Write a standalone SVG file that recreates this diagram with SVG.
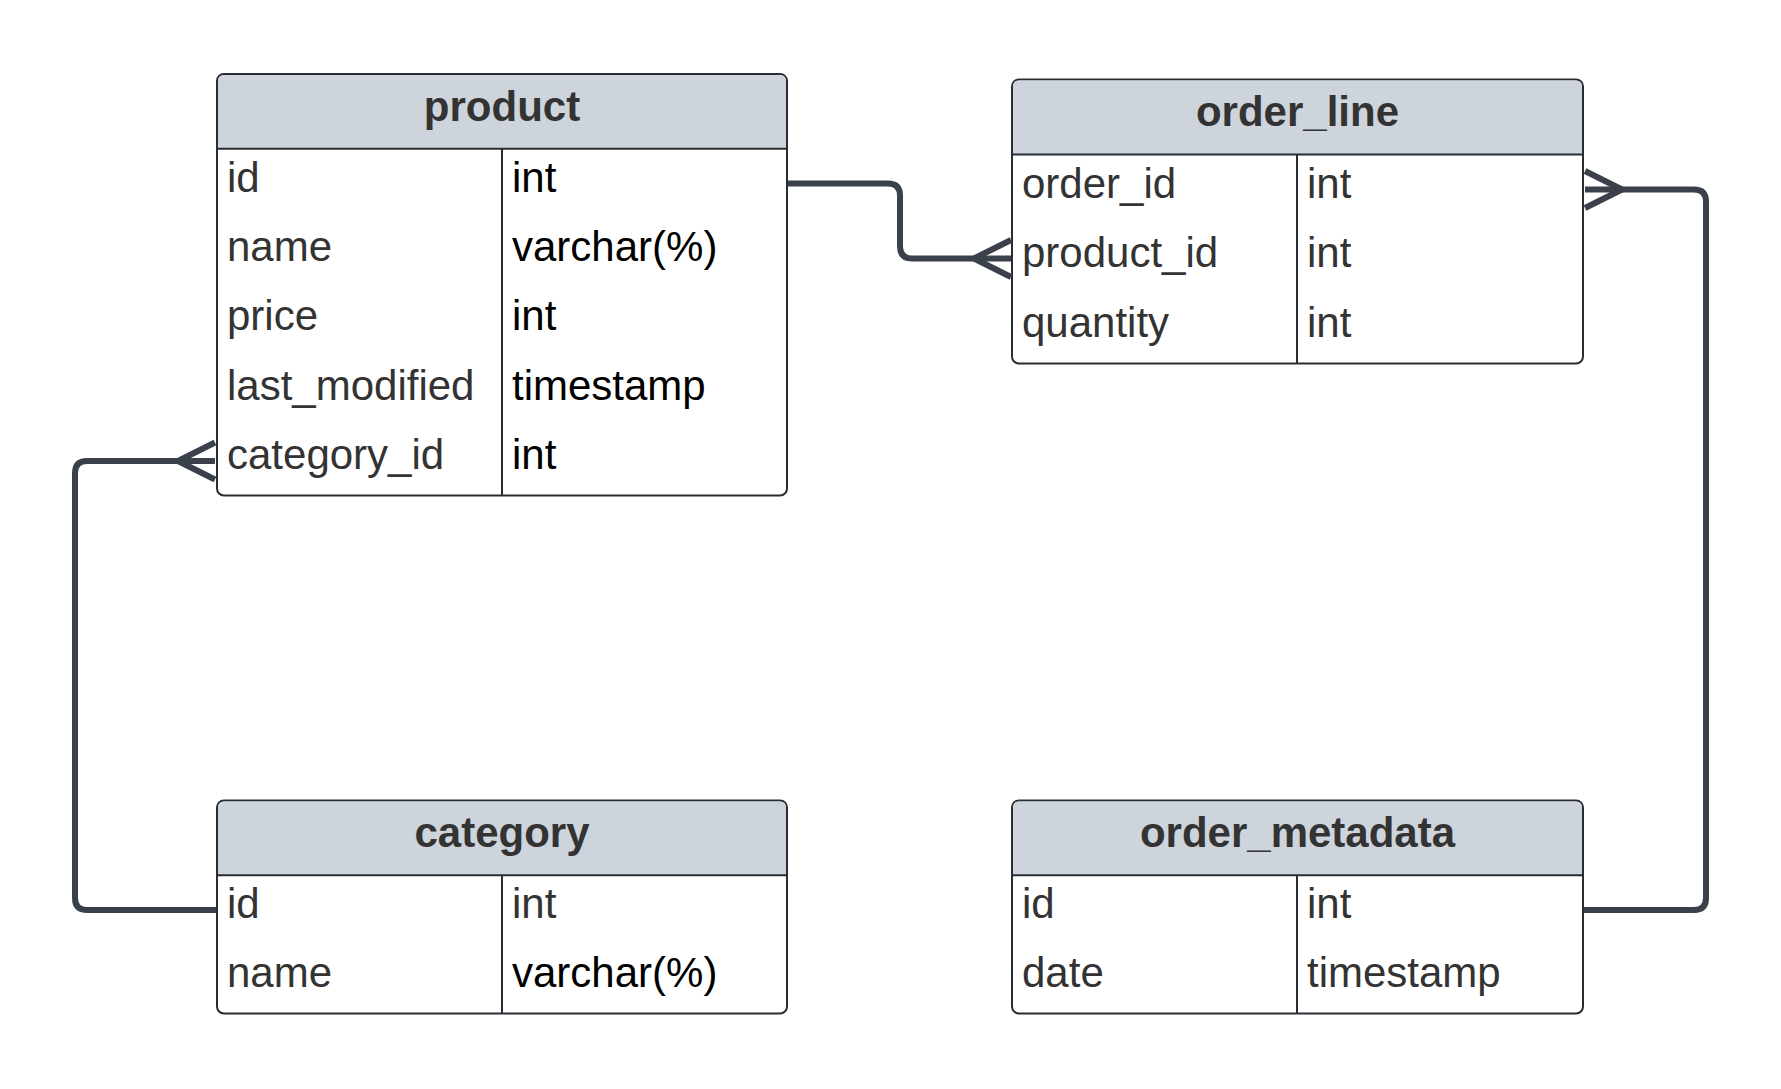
<svg xmlns="http://www.w3.org/2000/svg" width="1781" height="1089" viewBox="0 0 1781 1089">
<style>
.box{fill:#ffffff;stroke:#282c33;stroke-width:2}
.hdr{fill:#ced4db;stroke:none}
.ln{stroke:#282c33;stroke-width:2;fill:none}
.title{font-family:"Liberation Sans",Arial,sans-serif;font-size:42px;font-weight:bold;fill:#333333;text-anchor:middle}
.f{font-family:"Liberation Sans",Arial,sans-serif;font-size:42px;fill:#333333}
.k{fill:#000000}
.conn{fill:none;stroke:#3a414a;stroke-width:6;stroke-linejoin:round}
</style>
<rect width="1781" height="1089" fill="#ffffff"/>

<g id="product">
<rect class="box" x="217" y="74" width="570" height="421.5" rx="7"/>
<path class="hdr" d="M218,148.7 V81 Q218,75 224,75 H780 Q786,75 786,81 V148.7 Z"/>
<line class="ln" x1="217" y1="148.7" x2="787" y2="148.7"/>
<line class="ln" x1="502" y1="148.7" x2="502" y2="495.5"/>
<text class="title" x="502" y="120.7">product</text>
<text class="f" x="227" y="191.7">id</text>
<text class="f" x="227" y="261">name</text>
<text class="f" x="227" y="330.4">price</text>
<text class="f" x="227" y="399.8">last_modified</text>
<text class="f" x="227" y="469.1">category_id</text>
<text class="f k" x="512" y="191.7">int</text>
<text class="f k" x="512" y="261">varchar(%)</text>
<text class="f k" x="512" y="330.4">int</text>
<text class="f k" x="512" y="399.8">timestamp</text>
<text class="f k" x="512" y="469.1">int</text>
</g>

<g id="order_line">
<rect class="box" x="1012" y="79.5" width="571" height="284" rx="7"/>
<path class="hdr" d="M1013,154.5 V86.5 Q1013,80.5 1019,80.5 H1576 Q1582,80.5 1582,86.5 V154.5 Z"/>
<line class="ln" x1="1012" y1="154.5" x2="1583" y2="154.5"/>
<line class="ln" x1="1297" y1="154.5" x2="1297" y2="363.5"/>
<text class="title" x="1297.5" y="126.2">order_line</text>
<text class="f" x="1022" y="197.5">order_id</text>
<text class="f" x="1022" y="267.1">product_id</text>
<text class="f" x="1022" y="336.7">quantity</text>
<text class="f" x="1307" y="197.5">int</text>
<text class="f" x="1307" y="267.1">int</text>
<text class="f" x="1307" y="336.7">int</text>
</g>

<g id="category">
<rect class="box" x="217" y="800.5" width="570" height="213" rx="7"/>
<path class="hdr" d="M218,875.3 V807.5 Q218,801.5 224,801.5 H780 Q786,801.5 786,807.5 V875.3 Z"/>
<line class="ln" x1="217" y1="875.3" x2="787" y2="875.3"/>
<line class="ln" x1="502" y1="875.3" x2="502" y2="1013.5"/>
<text class="title" x="502" y="847.2">category</text>
<text class="f" x="227" y="918.3">id</text>
<text class="f" x="227" y="987.3">name</text>
<text class="f" x="512" y="918.3">int</text>
<text class="f k" x="512" y="987.3">varchar(%)</text>
</g>

<g id="order_metadata">
<rect class="box" x="1012" y="800.5" width="571" height="213" rx="7"/>
<path class="hdr" d="M1013,875.3 V807.5 Q1013,801.5 1019,801.5 H1576 Q1582,801.5 1582,807.5 V875.3 Z"/>
<line class="ln" x1="1012" y1="875.3" x2="1583" y2="875.3"/>
<line class="ln" x1="1297" y1="875.3" x2="1297" y2="1013.5"/>
<text class="title" x="1297.5" y="847.2">order_metadata</text>
<text class="f" x="1022" y="918.3">id</text>
<text class="f" x="1022" y="987.3">date</text>
<text class="f" x="1307" y="918.3">int</text>
<text class="f" x="1307" y="987.3">timestamp</text>
</g>

<g id="connectors">
<path class="conn" d="M788,183.5 H888 Q900,183.5 900,195.5 V246.5 Q900,258.5 912,258.5 H1011"/>
<path class="conn" d="M1011,240 L974,258.5 L1011,277"/>
<path class="conn" d="M1584,910 H1694 Q1706,910 1706,898 V201.5 Q1706,189.5 1694,189.5 H1585"/>
<path class="conn" d="M1585,171 L1622,189.5 L1585,208"/>
<path class="conn" d="M216,910 H87 Q75,910 75,898 V473 Q75,461 87,461 H215"/>
<path class="conn" d="M215,442.5 L178,461 L215,479.5"/>
</g>
</svg>
